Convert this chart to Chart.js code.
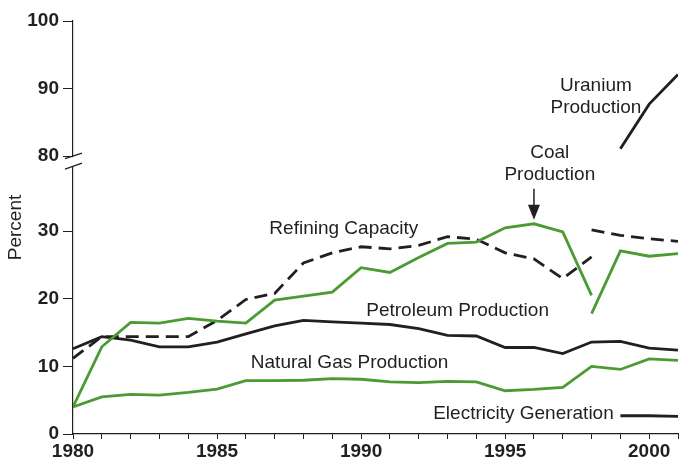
<!DOCTYPE html>
<html>
<head>
<meta charset="utf-8">
<script src="https://cdn.jsdelivr.net/npm/chart.js@4.4.1/dist/chart.umd.min.js"></script>
<style>
  html, body { margin: 0; padding: 0; background: #fff; }
  #wrap { width: 679px; height: 462px; }
</style>
</head>
<body>
<div id="wrap"><canvas id="energyChart"></canvas></div>
<script>
const years = [1980, 1981, 1982, 1983, 1984, 1985, 1986, 1987, 1988, 1989, 1990,
  1991, 1992, 1993, 1994, 1995, 1996, 1997, 1998, 1999, 2000, 2001];

// coal and refining have a series break in 1998
const coalOld = [4.0, 12.9, 16.5, 16.4, 17.1, 16.7, 16.4, 19.8, 20.4, 21.0, 24.6,
  23.9, 26.1, 28.2, 28.4, 30.5, 31.1, 29.9, 20.5];
const coalNew = [17.8, 27.1, 26.3, 26.7];
const refiningOld = [11.2, 14.4, 14.4, 14.4, 14.4, 16.8, 19.9, 20.8, 25.3, 26.8, 27.7,
  27.4, 27.9, 29.2, 28.8, 26.8, 25.9, 23.0, 26.2];
const refiningNew = [30.2, 29.4, 28.9, 28.5];
const petroleum = [12.6, 14.4, 13.9, 12.9, 12.9, 13.6, 14.8, 16.0, 16.8, 16.6, 16.4,
  16.2, 15.6, 14.6, 14.5, 12.8, 12.8, 11.9, 13.6, 13.7, 12.7, 12.4];
const naturalGas = [4.0, 5.5, 5.85, 5.75, 6.15, 6.65, 7.9, 7.9, 7.95, 8.2, 8.1,
  7.7, 7.6, 7.8, 7.7, 6.4, 6.6, 6.9, 10.0, 9.55, 11.1, 10.9];
const electricity = [2.7, 2.7, 2.6];   // 1999-2001
const uranium = [81.1, 87.7, 92.1];    // 1999-2001

const yTickValues = [0, 10, 20, 30, 80, 90, 100];
const xLabelYears = [1980, 1985, 1990, 1995, 2000];

const GREEN = '#4b9b34';
const BLACK = '#231f20';

// broken axis: everything from 80 up is shifted down to sit above 30
const BREAK_SHIFT = 38.9;
function brk(v) { return v >= 80 ? v - BREAK_SHIFT : v; }

function pts(startYear, values) {
  const start = years.indexOf(startYear);
  return values.map((v, i) => ({ x: years[start + i], y: brk(v) }));
}

function line(data, color, dashed) {
  return {
    data: data,
    borderColor: color,
    borderWidth: 2.8,
    borderDash: dashed ? [13, 7] : [],
    pointRadius: 0,
    tension: 0,
    fill: false
  };
}

const notes = [
  { text: 'Refining Capacity', x: 1989.4, y: 30.4, align: 'center' },
  { text: 'Petroleum Production', x: 1993.35, y: 18.3, align: 'center' },
  { text: 'Natural Gas Production', x: 1989.6, y: 10.5, align: 'center' },
  { text: 'Electricity Generation', x: 1998.77, y: 2.95, align: 'right' },
  { text: 'Coal', x: 1996.55, y: 41.6, align: 'center' },
  { text: 'Production', x: 1996.55, y: 38.3, align: 'center' },
  { text: 'Uranium', x: 1998.15, y: 51.5, align: 'center' },
  { text: 'Production', x: 1998.15, y: 48.2, align: 'center' }
];

const notesPlugin = {
  id: 'notes',
  afterDatasetsDraw(chart) {
    const { ctx, scales: { x, y } } = chart;
    ctx.save();
    ctx.fillStyle = BLACK;
    ctx.font = '19px "Liberation Sans", Arial, sans-serif';
    ctx.textBaseline = 'middle';
    notes.forEach(n => {
      ctx.textAlign = n.align;
      ctx.fillText(n.text, x.getPixelForValue(n.x), y.getPixelForValue(n.y));
    });

    // arrow pointing to the 1996 coal value
    const ax = x.getPixelForValue(1996);
    const tip = y.getPixelForValue(31.7);
    ctx.strokeStyle = BLACK;
    ctx.lineWidth = 1.5;
    ctx.beginPath();
    ctx.moveTo(ax, tip - 31);
    ctx.lineTo(ax, tip - 12);
    ctx.stroke();
    ctx.beginPath();
    ctx.moveTo(ax - 6, tip - 15);
    ctx.lineTo(ax + 6, tip - 15);
    ctx.lineTo(ax, tip);
    ctx.closePath();
    ctx.fill();

    // axis break marks
    const bx = chart.chartArea.left;
    const by = y.getPixelForValue(brk(80));
    ctx.fillStyle = '#fff';
    ctx.fillRect(bx - 2, by + 1, 4, 9);
    ctx.strokeStyle = BLACK;
    ctx.lineWidth = 1.3;
    ctx.beginPath();
    ctx.moveTo(bx - 8, by + 2.5);
    ctx.lineTo(bx + 9, by - 3);
    ctx.moveTo(bx - 8, by + 13);
    ctx.lineTo(bx + 9, by + 7);
    ctx.stroke();
    ctx.restore();
  }
};

new Chart(document.getElementById('energyChart'), {
  type: 'line',
  data: {
    datasets: [
      line(pts(1980, naturalGas), GREEN, false),
      line(pts(1980, coalOld), GREEN, false),
      line(pts(1998, coalNew), GREEN, false),
      line(pts(1980, refiningOld), BLACK, true),
      line(pts(1998, refiningNew), BLACK, true),
      line(pts(1980, petroleum), BLACK, false),
      line(pts(1999, electricity), BLACK, false),
      line(pts(1999, uranium), BLACK, false)
    ]
  },
  options: {
    responsive: true,
    maintainAspectRatio: false,
    animation: false,
    layout: { padding: { top: 21, right: 0, left: 0, bottom: 0 } },
    plugins: {
      legend: { display: false },
      tooltip: { enabled: false }
    },
    scales: {
      x: {
        type: 'linear',
        min: 1980,
        max: 2001,
        afterBuildTicks(scale) {
          scale.ticks = years.map(v => ({ value: v }));
        },
        afterFit(scale) { scale.height = 28; },
        grid: { drawOnChartArea: false, tickLength: 5, color: BLACK },
        border: { display: true, color: BLACK, width: 1.2 },
        ticks: {
          autoSkip: false,
          maxRotation: 0,
          padding: 1,
          color: BLACK,
          font: { family: '"Liberation Sans", Arial, sans-serif', size: 19, weight: 'bold' },
          callback: v => xLabelYears.includes(v) ? String(v) : ''
        }
      },
      y: {
        min: 0,
        max: brk(100),
        afterBuildTicks(scale) {
          scale.ticks = yTickValues.map(v => ({ value: brk(v) }));
        },
        afterFit(scale) { scale.width = 73; },
        grid: { drawOnChartArea: false, tickLength: 10, color: BLACK },
        border: { display: true, color: BLACK, width: 1.2 },
        title: {
          display: true,
          text: 'Percent',
          color: BLACK,
          padding: { top: 4, bottom: 0 },
          font: { family: '"Liberation Sans", Arial, sans-serif', size: 19 }
        },
        ticks: {
          padding: 4,
          color: BLACK,
          font: { family: '"Liberation Sans", Arial, sans-serif', size: 19, weight: 'bold' },
          callback: (v, i) => String(yTickValues[i])
        }
      }
    }
  },
  plugins: [notesPlugin]
});
</script>
</body>
</html>
